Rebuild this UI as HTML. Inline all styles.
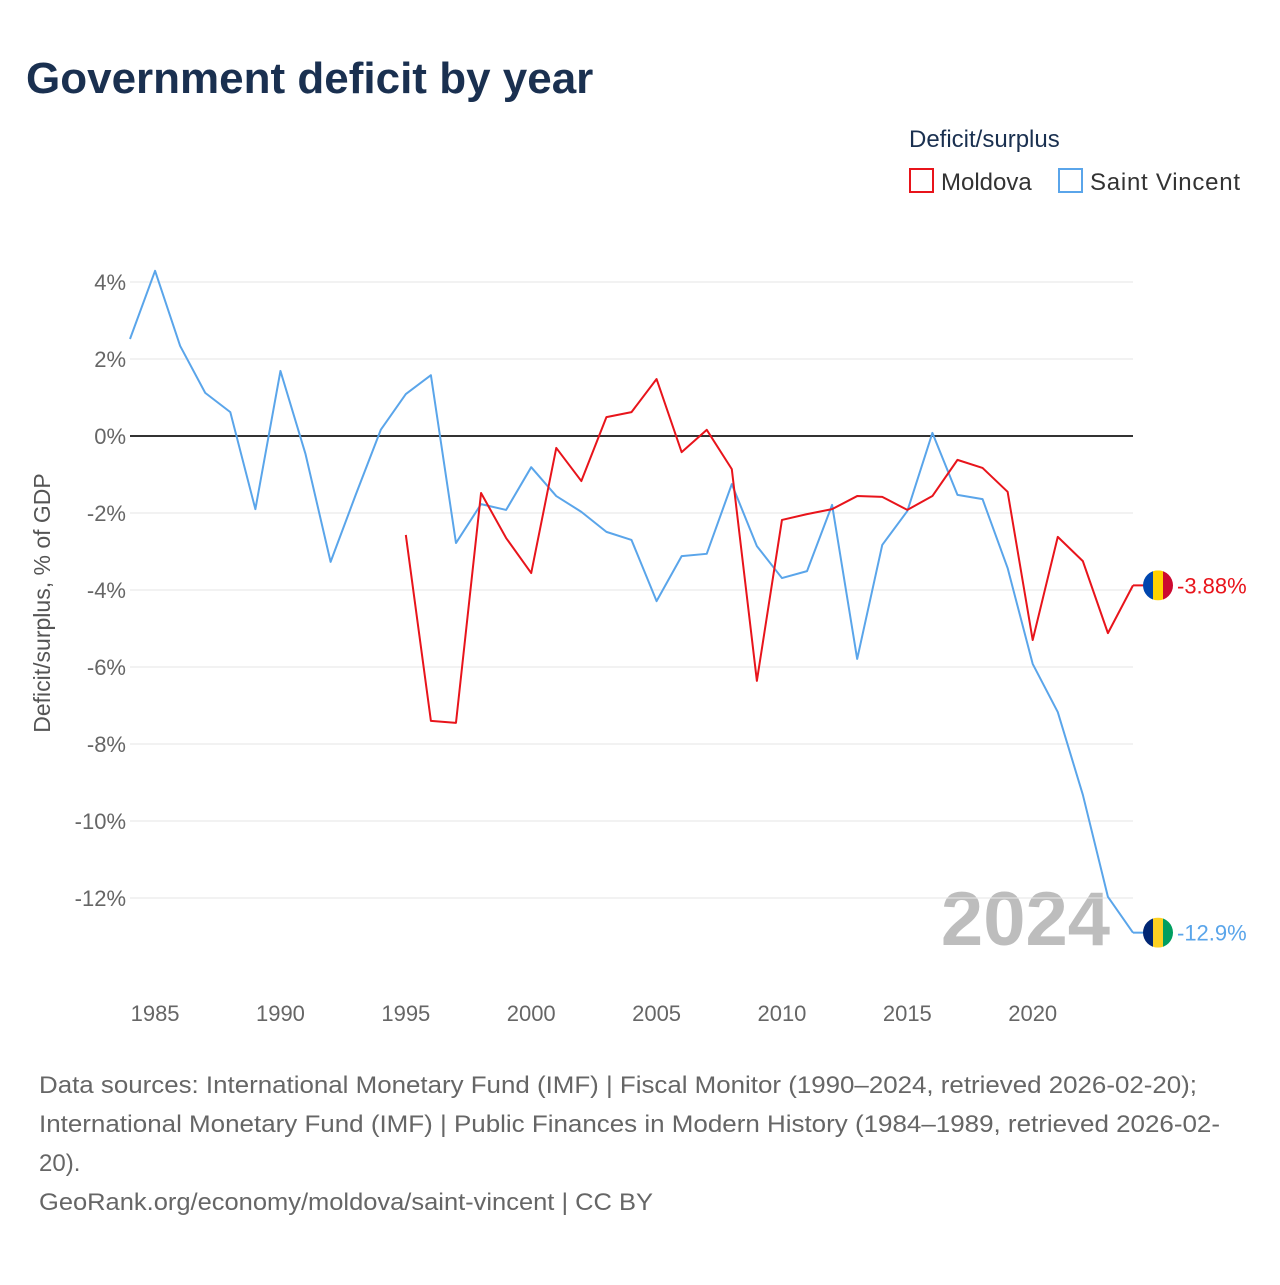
<!DOCTYPE html>
<html><head><meta charset="utf-8">
<style>
body{margin:0;background:#fff;width:1280px;height:1280px;overflow:hidden;font-family:"Liberation Sans",sans-serif}
</style></head>
<body>
<svg id="chart" width="1280" height="1280" xmlns="http://www.w3.org/2000/svg" font-family="Liberation Sans, sans-serif">
<text x="26" y="93" font-size="44" font-weight="bold" fill="#1a3050">Government deficit by year</text>
<text x="909" y="147" font-size="24" fill="#1a3050">Deficit/surplus</text>
<g><rect x="910" y="169" width="23" height="23" fill="none" stroke="#e8141b" stroke-width="2"/><text x="941" y="190" font-size="24" fill="#333">Moldova</text></g>
<g><rect x="1059" y="169" width="23" height="23" fill="none" stroke="#5aa5ea" stroke-width="2"/><text x="1090" y="190" font-size="24" fill="#333" textLength="150">Saint Vincent</text></g>
<text transform="translate(50,603) rotate(-90)" text-anchor="middle" font-size="23" fill="#555">Deficit/surplus, % of GDP</text>
<text x="1110" y="945" text-anchor="end" font-size="76" font-weight="bold" fill="#bdbdbd">2024</text>
<g id="grid"></g><g id="series"></g>
<g font-size="24" fill="#666">
<text x="39" y="1093" textLength="1158" lengthAdjust="spacingAndGlyphs">Data sources: International Monetary Fund (IMF) | Fiscal Monitor (1990–2024, retrieved 2026-02-20);</text>
<text x="39" y="1132" textLength="1181" lengthAdjust="spacingAndGlyphs">International Monetary Fund (IMF) | Public Finances in Modern History (1984–1989, retrieved 2026-02-</text>
<text x="39" y="1171">20).</text>
<text x="39" y="1210" textLength="614" lengthAdjust="spacingAndGlyphs">GeoRank.org/economy/moldova/saint-vincent | CC BY</text>
</g>
</svg>
<script>
const years = [];for(let y=1984;y<=2024;y++)years.push(y);
const stVincent = [2.52,4.29,2.34,1.12,0.62,-1.9,1.69,-0.47,-3.27,-1.53,0.16,1.09,1.58,-2.78,-1.77,-1.92,-0.81,-1.56,-1.97,-2.49,-2.7,-4.29,-3.12,-3.06,-1.25,-2.86,-3.69,-3.51,-1.79,-5.79,-2.83,-1.95,0.08,-1.53,-1.64,-3.43,-5.92,-7.17,-9.32,-11.97,-12.9];
const moldovaYears = [];for(let y=1995;y<=2024;y++)moldovaYears.push(y);
const moldova = [-2.57,-7.4,-7.45,-1.48,-2.65,-3.56,-0.31,-1.17,0.49,0.62,1.48,-0.42,0.16,-0.86,-6.36,-2.18,-2.03,-1.9,-1.56,-1.58,-1.92,-1.56,-0.62,-0.83,-1.45,-5.3,-2.62,-3.25,-5.12,-3.88];
const yTicks = [4,2,0,-2,-4,-6,-8,-10,-12];
const xTicks = [1985,1990,1995,2000,2005,2010,2015,2020];
const NS="http://www.w3.org/2000/svg";
const X=y=>130+(y-1984)*(1003/40);
const Y=v=>436-38.5*v;
function mk(tag,attrs,parent){const e=document.createElementNS(NS,tag);for(const k in attrs)e.setAttribute(k,attrs[k]);parent.appendChild(e);return e;}
const grid=document.getElementById('grid'),ser=document.getElementById('series');
yTicks.forEach(t=>{
 const l=mk('line',{x1:130,x2:1133,y1:Y(t),y2:Y(t),stroke:t===0?'#333':'#e6e6e6','stroke-width':t===0?2:1},grid);
 
 
 const tx=mk('text',{x:126,y:Y(t)+8,'text-anchor':'end','font-size':22,fill:'#666'},grid);
 tx.textContent=t+'%';
 
 
});
xTicks.forEach(t=>{
 const tx=mk('text',{x:X(t),y:1021,'text-anchor':'middle','font-size':22,fill:'#666'},grid);
 tx.textContent=t;
 
 
});
function line(xs,vs,color,name){
 const p=mk('polyline',{points:xs.map((y,i)=>X(y)+','+Y(vs[i])).join(' '),fill:'none',stroke:color,'stroke-width':2,'stroke-linejoin':'round'},ser);
 
 
}
line(years,stVincent,'#5aa5ea','saint-vincent-line');
line(moldovaYears,moldova,'#e8141b','moldova-line');
function endLabel(v,color,name,flag){
 const cx=X(2024)+25,cy=Y(v);
 const g=mk('g',{},ser);
 
 
 mk('line',{x1:X(2024),x2:cx-14,y1:cy,y2:cy,stroke:color,'stroke-width':2},g);
 const cp='clip'+name;
 const cl=mk('clipPath',{id:cp},g);mk('circle',{cx:cx,cy:cy,r:15},cl);
 const f=mk('g',{'clip-path':'url(#'+cp+')'},g);
 flag.forEach((c,i)=>mk('rect',{x:cx-15+i*10,y:cy-15,width:10,height:30,fill:c},f));
 const t=mk('text',{x:cx+19,y:cy+8,'font-size':22,fill:color},g);
 t.textContent=(Math.round(v*100)/100)+'%';
}
endLabel(moldova[moldova.length-1],'#e8141b','moldova-end-label',['#0046ae','#ffd200','#cc092f']);
endLabel(stVincent[stVincent.length-1],'#5aa5ea','saint-vincent-end-label',['#002674','#fcd022','#009e60']);
</script>
</body></html>
